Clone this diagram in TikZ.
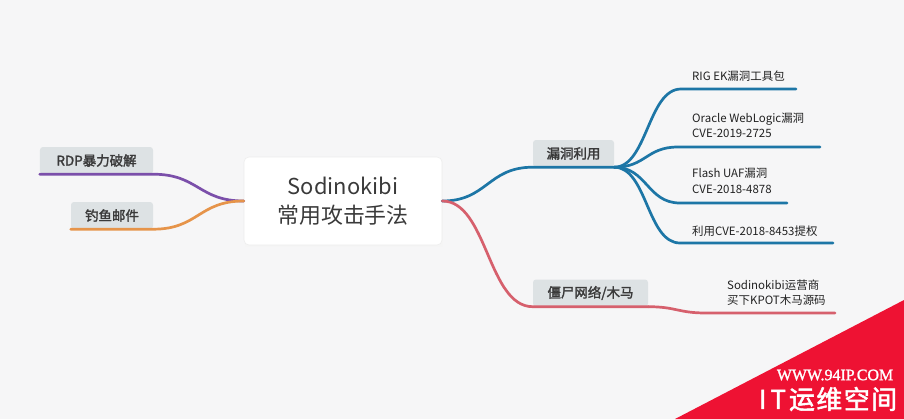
\documentclass[tikz,border=0pt]{standalone}
\usepackage{fontspec}
\setmainfont{Noto Sans CJK SC}
\newfontfamily\cjkbold{Noto Sans CJK SC}[FakeBold=2]
\newfontfamily\wmserif{Liberation Serif}[FakeBold=1.5]
\definecolor{bgcol}{HTML}{F6F6F7}
\definecolor{labelfill}{HTML}{DDE2E4}
\definecolor{textgray}{HTML}{3A3A3A}
\definecolor{leafgray}{HTML}{222222}
\definecolor{cblue}{HTML}{1D76A6}
\definecolor{cpurple}{HTML}{7B4FAA}
\definecolor{corange}{HTML}{E6944A}
\definecolor{cred}{HTML}{D6606D}
\definecolor{wmred}{HTML}{EE1233}
\tikzset{
  hub/.style={rectangle, rounded corners=5bp, fill=white, draw=black!7, line width=0.6bp,
    minimum width=198bp, minimum height=88bp, align=center, inner sep=0,
    font=\fontsize{22}{30}\selectfont, text=textgray},
  topic/.style={rectangle, rounded corners=3bp, fill=labelfill, minimum height=27bp, inner sep=0,
    font=\cjkbold\fontsize{13.5}{16}\selectfont, text=textgray},
  leaf/.style={anchor=west, align=left, inner sep=0, font=\fontsize{11.5}{15.5}\selectfont, text=leafgray},
  branch/.style={line width=2.7bp, line cap=round},
}
\begin{document}
\begin{tikzpicture}[x=1bp,y=-1bp]
\useasboundingbox (0,0) rectangle (904,419);
\fill[bgcol] (0,0) rectangle (904,419);

% free ends of leaf underlines
\coordinate (rigA) at (681,89);   \coordinate (rigB) at (796,89);
\coordinate (oraA) at (678,147);  \coordinate (oraB) at (820,147);
\coordinate (flaA) at (680,203);  \coordinate (flaB) at (787,203);
\coordinate (cveA) at (680,243);  \coordinate (cveB) at (833,243);
\coordinate (kpA)  at (706,313);  \coordinate (kpB)  at (835,313);

% central node
\fill[black!4] (245,159) rectangle (443,247);
\node[hub] (hub) at (343,201) {Sodinokibi\\[-1bp]常用攻击手法};

% topic nodes
\node[topic, minimum width=113bp] (rdp) at (96.5,160.5) {RDP暴力破解};
\node[topic, minimum width=82bp] (phish) at (112,215.5) {钓鱼邮件};
\node[topic, minimum width=81bp] (vuln) at (573.5,153.5) {漏洞利用};
\node[topic, minimum width=115bp] (bot) at (590.5,293) {僵尸网络/木马};

% left branches
\draw[branch, cpurple] (hub.west) .. controls +(-45,0) and +(45,0) .. (rdp.south east) -- (rdp.south west);
\draw[branch, corange] (hub.west) .. controls +(-45,0) and +(45,0) .. (phish.south east) -- (phish.south west);

% right branches
\draw[branch, cblue] (hub.east) .. controls +(45,0) and +(-45,0) .. (vuln.south west) -- (vuln.south east);
\draw[branch, cred] (hub.east) .. controls +(45,0) and +(-45,0) .. (bot.south west) -- (bot.south east);

% leaves of vuln
\draw[branch, cblue] (vuln.south east) .. controls +(33,0) and +(-33,0) .. (rigA) -- (rigB);
\draw[branch, cblue] (vuln.south east) .. controls +(32,0) and +(-32,0) .. (oraA) -- (oraB);
\draw[branch, cblue] (vuln.south east) .. controls +(33,0) and +(-33,0) .. (flaA) -- (flaB);
\draw[branch, cblue] (vuln.south east) .. controls +(33,0) and +(-33,0) .. (cveA) -- (cveB);
% leaf of bot
\draw[branch, cred] (bot.south east) .. controls +(28,0) and +(-28,0) .. (kpA) -- (kpB);

% leaf texts
\node[leaf] (rig) at (692,76) {RIG EK漏洞工具包};
\node[leaf] (ora) at (692,125.5) {Oracle WebLogic漏洞\\CVE-2019-2725};
\node[leaf] (fla) at (692,181) {Flash UAF漏洞\\CVE-2018-4878};
\node[leaf] (cve) at (692,231) {利用CVE-2018-8453提权};
\node[leaf] (kpot) at (727,292.5) {Sodinokibi运营商\\买下KPOT木马源码};

% watermark
\fill[wmred] (675,419) -- (904,300) -- (904,419) -- cycle;
\node[text=white, inner sep=0, font=\wmserif\fontsize{16}{16}\selectfont] (wm1) at (835,375) {WWW.94IP.COM};
\node[text=white, inner sep=0, font=\cjkbold\fontsize{26}{26}\selectfont] (wm2) at (828,399) {I\hspace{4bp}T\hspace{3bp}运\hspace{1.5bp}维\hspace{1.5bp}空\hspace{1.5bp}间};
\end{tikzpicture}
\end{document}
